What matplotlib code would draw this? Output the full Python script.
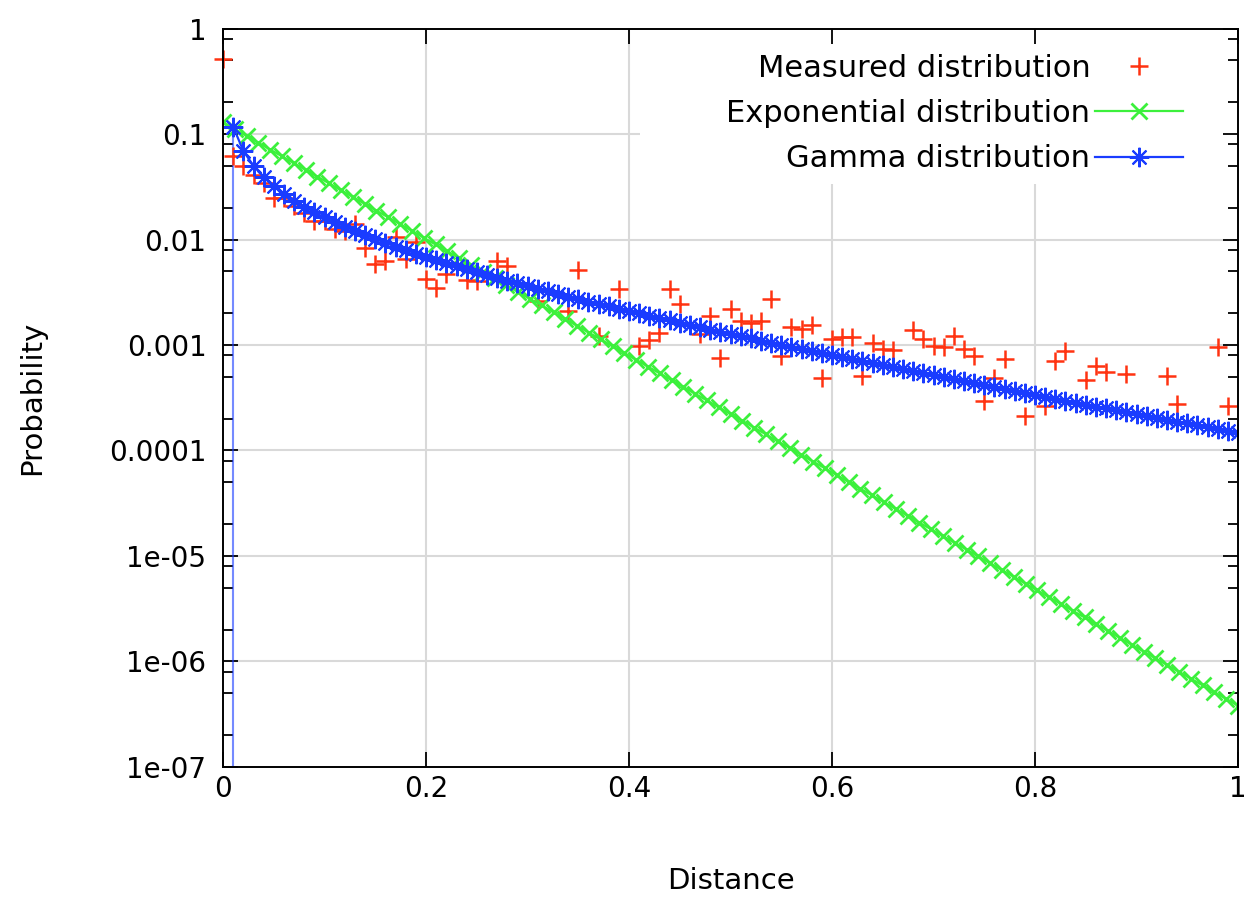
import numpy as np
import matplotlib
matplotlib.use('Agg')
import matplotlib.pyplot as plt
from matplotlib.patches import Rectangle
from matplotlib.ticker import FixedLocator, NullFormatter

# measured distribution (red +)
meas_x = [0.00, 0.01, 0.02, 0.03, 0.04, 0.05, 0.06, 0.07, 0.08, 0.09,
          0.10, 0.11, 0.12, 0.13, 0.14, 0.15, 0.16, 0.17, 0.18, 0.19,
          0.20, 0.21, 0.22, 0.24, 0.25, 0.27, 0.28, 0.31, 0.34, 0.35,
          0.37, 0.39, 0.41, 0.42, 0.43, 0.44, 0.45, 0.47, 0.48, 0.49,
          0.50, 0.51, 0.52, 0.53, 0.54, 0.55, 0.56, 0.57, 0.58, 0.59,
          0.60, 0.61, 0.62, 0.63, 0.64, 0.65, 0.66, 0.68, 0.69, 0.70,
          0.71, 0.72, 0.73, 0.74, 0.75, 0.76, 0.77, 0.79, 0.81, 0.82,
          0.83, 0.85, 0.86, 0.87, 0.89, 0.93, 0.94, 0.98, 0.99]
meas_p = [0.51, 0.062, 0.050, 0.041, 0.034, 0.025, 0.025, 0.021, 0.018, 0.015,
          0.015, 0.0125, 0.012, 0.014, 0.0083, 0.0058, 0.0062, 0.0105, 0.0065, 0.0095,
          0.0042, 0.0035, 0.0047, 0.0041, 0.0040, 0.0063, 0.0056, 0.0026, 0.0021, 0.0051,
          0.00122, 0.0034, 0.00098, 0.00112, 0.00130, 0.0034, 0.00245, 0.00127, 0.0019, 0.00076,
          0.0022, 0.0017, 0.0016, 0.0017, 0.0027, 0.00079, 0.00148, 0.00141, 0.00154, 0.00049,
          0.00114, 0.00118, 0.00118, 0.00051, 0.00104, 0.00091, 0.00089, 0.0014, 0.00114, 0.00097,
          0.00095, 0.00122, 0.00091, 0.00079, 0.000295, 0.00049, 0.00073, 0.00021, 0.000265, 0.00071,
          0.00088, 0.00047, 0.00063, 0.00055, 0.00053, 0.00051, 0.000275, 0.00095, 0.000265]

# exponential fit, evenly sampled over [0, 1]
exp_p = [0.129, 0.111, 0.0958, 0.0826, 0.0712, 0.0614, 0.0530, 0.0457, 0.0394, 0.0340,
         0.0293, 0.0253, 0.0218, 0.0188, 0.0162, 0.0140, 0.0121, 0.0104, 0.00897, 0.00773,
         0.00667, 0.00575, 0.00496, 0.00428, 0.00369, 0.00318, 0.00274, 0.00237, 0.00204, 0.00176,
         0.00152, 0.00131, 0.00113, 0.000973, 0.000839, 0.000723, 0.000624, 0.000538, 0.000464, 0.000400,
         0.000345, 0.000298, 0.000257, 0.000221, 0.000191, 0.000165, 0.000142, 0.000122, 0.000106, 9.10e-5,
         7.85e-5, 6.77e-5, 5.84e-5, 5.04e-5, 4.34e-5, 3.75e-5, 3.23e-5, 2.79e-5, 2.40e-5, 2.07e-5,
         1.79e-5, 1.54e-5, 1.33e-5, 1.15e-5, 9.88e-6, 8.52e-6, 7.35e-6, 6.34e-6, 5.46e-6, 4.71e-6,
         4.06e-6, 3.50e-6, 3.02e-6, 2.61e-6, 2.25e-6, 1.94e-6, 1.67e-6, 1.44e-6, 1.24e-6, 1.07e-6,
         9.24e-7, 7.97e-7, 6.88e-7, 5.93e-7, 5.11e-7, 4.41e-7, 3.80e-7]
exp_x = np.linspace(0, 1, len(exp_p))

# gamma fit, x = 0.01 .. 1.00
gamma_x = np.arange(1, 101) / 100
gamma_p = [0.117, 0.069, 0.0500, 0.0390, 0.0320, 0.0272, 0.0234, 0.0204, 0.0181, 0.0162,
           0.0146, 0.0132, 0.0120, 0.0110, 0.0101, 0.00927, 0.00856, 0.00793, 0.00736, 0.00685,
           0.00638, 0.00596, 0.00557, 0.00522, 0.00489, 0.00460, 0.00432, 0.00407, 0.00383, 0.00361,
           0.00341, 0.00322, 0.00304, 0.00288, 0.00273, 0.00258, 0.00245, 0.00232, 0.00220, 0.00209,
           0.00199, 0.00189, 0.00179, 0.00171, 0.00162, 0.00155, 0.00147, 0.00140, 0.00134, 0.00127,
           0.00121, 0.00116, 0.00110, 0.00105, 0.00101, 0.000960, 0.000917, 0.000876, 0.000837, 0.000800,
           0.000764, 0.000731, 0.000699, 0.000668, 0.000640, 0.000612, 0.000586, 0.000561, 0.000537, 0.000514,
           0.000492, 0.000471, 0.000452, 0.000433, 0.000414, 0.000397, 0.000381, 0.000365, 0.000350, 0.000335,
           0.000322, 0.000309, 0.000296, 0.000284, 0.000272, 0.000261, 0.000251, 0.000241, 0.000231, 0.000222,
           0.000213, 0.000204, 0.000196, 0.000188, 0.000181, 0.000174, 0.000167, 0.000160, 0.000154, 0.000148]

ytick_vals = [1e-7, 1e-6, 1e-5, 1e-4, 1e-3, 1e-2, 1e-1, 1]
ytick_labels = ['1e-07', '1e-06', '1e-05', '0.0001', '0.001', '0.01', '0.1', '1']
xtick_vals = [0, 0.2, 0.4, 0.6, 0.8, 1]
xtick_labels = ['0', '0.2', '0.4', '0.6', '0.8', '1']

RED, GREEN, BLUE = '#ff3311', '#3cf03c', '#1a3cff'

plt.rcParams['font.family'] = ['DejaVu Sans']
fig = plt.figure(figsize=(12.49, 8.98), dpi=100)
ax = fig.add_axes([0.1786, 0.146, 0.8126, 0.8222])
ax.set_yscale('log')
ax.set_xlim(0, 1)
ax.set_ylim(1e-7, 1)

# grid behind everything, masked by the key area
for v in ytick_vals[1:-1]:
    ax.axhline(v, color='#d9d9d9', lw=1.5, zorder=0.8)
for v in xtick_vals[1:-1]:
    ax.axvline(v, color='#d9d9d9', lw=1.5, zorder=0.8)
ax.add_patch(Rectangle((0.411, 0.789), 0.589, 0.211, transform=ax.transAxes,
                       facecolor='white', edgecolor='none', zorder=1))

ax.vlines(gamma_x[0], 1e-7, gamma_p[0], color=BLUE, lw=1.5, alpha=0.6, zorder=2)
ax.plot(meas_x, meas_p, ls='none', marker='+', ms=13, mew=1.8, color=RED,
        label='Measured distribution', zorder=2, clip_on=False)
ax.plot(exp_x, exp_p, '-', marker='x', ms=11, mew=2.0, lw=1.6, color=GREEN,
        label='Exponential distribution', zorder=2.2)
ax.plot(gamma_x, gamma_p, '-', marker=(8, 2, 0), ms=14, mew=1.5, lw=1.6, color=BLUE,
        label='Gamma distribution', zorder=2.4)

ax.set_yticks(ytick_vals)
ax.set_yticklabels(ytick_labels)
ax.yaxis.set_minor_locator(FixedLocator([m * 10.0 ** e for e in range(-7, 0) for m in (2, 5, 8)]))
ax.yaxis.set_minor_formatter(NullFormatter())
ax.set_xticks(xtick_vals)
ax.set_xticklabels(xtick_labels)
ax.tick_params(which='both', direction='in', top=True, right=True, labelsize=20, color='black')
ax.tick_params(which='major', length=11, width=1.3)
ax.tick_params(which='minor', length=7, width=1.3)
ax.tick_params(axis='x', which='major', pad=6)
ax.tick_params(axis='y', which='major', pad=12)
for s in ax.spines.values():
    s.set_linewidth(1.4)

ax.set_xlabel('Distance', fontsize=21, labelpad=46)
ax.set_ylabel('Probability', fontsize=21, labelpad=45)

leg = ax.legend(loc='upper right', bbox_to_anchor=(0.9458, 0.9656), markerfirst=False,
                frameon=False, fontsize=22, handlelength=2.88, handletextpad=0.15,
                labelspacing=0.53, borderaxespad=0, borderpad=0, numpoints=1)

fig.savefig('out.png', dpi=100)
